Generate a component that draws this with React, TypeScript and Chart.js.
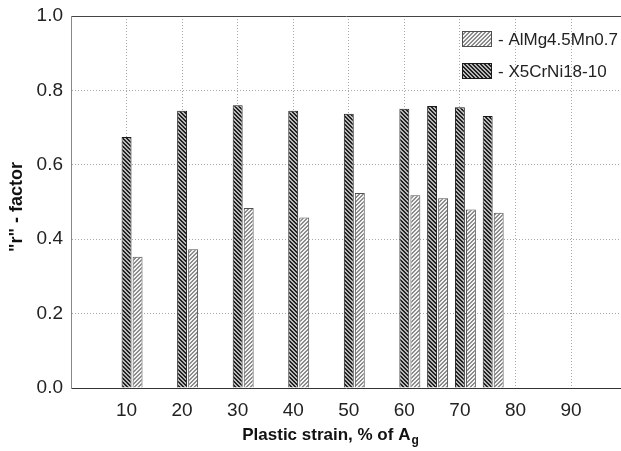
import React, { useEffect, useRef } from "react";
import { Chart, registerables } from "chart.js";

Chart.register(...registerables);

const strains = [10, 20, 30, 40, 50, 60, 65, 70, 75];
const x5CrNi = [0.675, 0.745, 0.76, 0.745, 0.737, 0.751, 0.758, 0.755, 0.731];
const alMg = [0.353, 0.373, 0.484, 0.458, 0.524, 0.518, 0.51, 0.48, 0.471];
const xTicks = [10, 20, 30, 40, 50, 60, 70, 80, 90];
const yTicks = [0, 0.2, 0.4, 0.6, 0.8, 1.0];
const labelAl = "AlMg4.5Mn0.7";
const labelX5 = "X5CrNi18-10";
const xTitle = "Plastic strain, % of A";
const xTitleSub = "g";
const yTitle = '"r" - factor';

const FONT = "'Liberation Sans', Arial, sans-serif";

function makePattern(kind: "dark" | "light"): CanvasPattern | string {
  const c = document.createElement("canvas");
  c.width = 8;
  c.height = 8;
  const g = c.getContext("2d");
  if (!g) return kind === "dark" ? "#666" : "#ccc";
  const img = g.createImageData(8, 8);
  for (let y = 0; y < 8; y++) {
    for (let x = 0; x < 8; x++) {
      let v: number;
      if (kind === "dark") {
        const m = (((x - y) % 4) + 4) % 4;
        v = m < 2 ? 0x22 : 0xb8;
      } else {
        const m = (x + y) % 4;
        v = m < 2 ? 0x8c : 0xf4;
      }
      const i = (y * 8 + x) * 4;
      img.data[i] = v;
      img.data[i + 1] = v;
      img.data[i + 2] = v;
      img.data[i + 3] = 255;
    }
  }
  g.putImageData(img, 0, 0);
  const p = g.createPattern(c, "repeat");
  return p || (kind === "dark" ? "#666" : "#ccc");
}

const overlayPlugin = {
  id: "overlay",
  afterDraw(chart: any) {
    const { ctx, chartArea } = chart;
    ctx.save();
    // legend
    const items = [2, 1].map((i) => chart.data.datasets[i]);
    items.forEach((ds: any, k: number) => {
      const bx = 462;
      const by = 31 + k * 32;
      ctx.fillStyle = ds.backgroundColor;
      ctx.fillRect(bx, by, 30, 16);
      ctx.strokeStyle = ds.borderColor;
      ctx.lineWidth = 1;
      ctx.strokeRect(bx + 0.5, by + 0.5, 29, 15);
      ctx.fillStyle = "#222";
      ctx.font = `17px ${FONT}`;
      ctx.textAlign = "left";
      ctx.textBaseline = "middle";
      ctx.fillText("- " + ds.label, bx + 36, by + 9);
    });
    // x title
    ctx.font = `bold 17px ${FONT}`;
    const w1 = ctx.measureText(xTitle).width;
    ctx.font = `bold 12px ${FONT}`;
    const w2 = ctx.measureText(xTitleSub).width;
    const cx = (chartArea.left + chartArea.right) / 2 - 16;
    const startX = cx - (w1 + w2) / 2;
    ctx.fillStyle = "#111";
    ctx.textAlign = "left";
    ctx.textBaseline = "middle";
    ctx.font = `bold 17px ${FONT}`;
    ctx.fillText(xTitle, startX, 435);
    ctx.font = `bold 12px ${FONT}`;
    ctx.fillText(xTitleSub, startX + w1 + 1, 441);
    // y title
    ctx.translate(17, (chartArea.top + chartArea.bottom) / 2 + 5);
    ctx.rotate(-Math.PI / 2);
    ctx.font = `bold 18px ${FONT}`;
    ctx.textAlign = "center";
    ctx.textBaseline = "middle";
    ctx.fillText(yTitle, 0, 0);
    ctx.restore();
  },
};

export default function App() {
  const ref = useRef<HTMLCanvasElement | null>(null);
  useEffect(() => {
    document.body.style.margin = "0";
    const canvas = ref.current;
    if (!canvas) return;
    const darkFill = makePattern("dark");
    const lightFill = makePattern("light");
    const chart = new Chart(canvas, {
      type: "bar",
      data: {
        datasets: [
          {
            label: "spacer",
            data: strains.map((x) => ({ x, y: null as any })),
            backgroundColor: "rgba(0,0,0,0)",
          },
          {
            label: labelX5,
            data: strains.map((x, i) => ({ x, y: x5CrNi[i] })),
            backgroundColor: darkFill as any,
            borderColor: "#1a1a1a",
            borderWidth: 1,
          },
          {
            label: labelAl,
            data: strains.map((x, i) => ({ x, y: alMg[i] })),
            backgroundColor: lightFill as any,
            borderColor: "#505050",
            borderWidth: 1,
          },
        ],
      },
      options: {
        responsive: false,
        animation: false,
        maintainAspectRatio: false,
        categoryPercentage: 1.19,
        barPercentage: 0.9,
        layout: { padding: { top: 16, right: 0, bottom: 0, left: 0 } },
        plugins: {
          legend: { display: false },
          tooltip: { enabled: false },
        },
        scales: {
          x: {
            type: "linear",
            min: 0,
            max: 99,
            offset: false,
            afterFit: (s: any) => {
              s.height = 63;
              s.paddingLeft = 0;
              s.paddingRight = 0;
            },
            afterBuildTicks: (s: any) => {
              s.ticks = [0, ...xTicks].map((v) => ({ value: v }));
            },
            ticks: {
              padding: 11,
              font: { family: FONT, size: 19 },
              color: "#222",
              callback: (v: any) => (v === 0 ? "" : String(v)),
              maxRotation: 0,
              autoSkip: false,
            },
            grid: {
              offset: false,
              drawTicks: false,
              color: (c: any) => (c.tick && c.tick.value === 0 ? "rgba(0,0,0,0)" : "#a8a8a8"),
              lineWidth: 1,
            },
            border: {
              display: true,
              color: "#333",
              width: 1,
              dash: [1, 2],
            },
          },
          y: {
            type: "linear",
            min: 0,
            max: 1,
            afterFit: (s: any) => {
              s.width = 71;
              s.paddingTop = 0;
              s.paddingBottom = 0;
            },
            afterBuildTicks: (s: any) => {
              s.ticks = yTicks.map((v) => ({ value: v }));
            },
            ticks: {
              padding: 8,
              font: { family: FONT, size: 19 },
              color: "#222",
              callback: (v: any) => Number(v).toFixed(1),
            },
            grid: {
              drawTicks: false,
              color: (c: any) => {
                const v = c.tick ? c.tick.value : -1;
                if (v === 0) return "rgba(0,0,0,0)";
                if (v === 1) return "#444";
                return "#a8a8a8";
              },
              lineWidth: 1,
            },
            border: {
              display: true,
              color: "#888",
              width: 1,
              dash: (c: any) => (c.tick && c.tick.value === 1 ? [] : [1, 2]),
            },
          },
        },
      },
      plugins: [overlayPlugin],
    });
    return () => chart.destroy();
  }, []);
  return (
    <div style={{ width: 621, height: 451 }}>
      <canvas ref={ref} width={621} height={451} style={{ display: "block" }} />
    </div>
  );
}
